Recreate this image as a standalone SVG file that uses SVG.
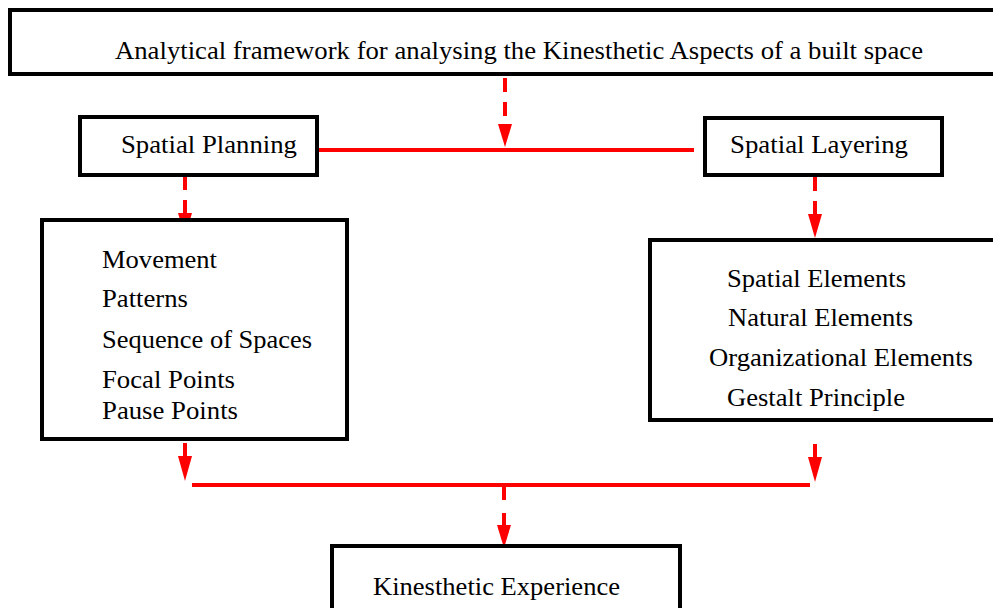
<svg xmlns="http://www.w3.org/2000/svg" width="993" height="608" viewBox="0 0 993 608">
<style>
.box{fill:#fff;stroke:#000;stroke-width:4}
text{font-family:'Liberation Serif',serif;font-size:26px;fill:#000}
.r{stroke:#f00;stroke-width:4;fill:none}
.d{stroke:#f00;stroke-width:4;fill:none;stroke-dasharray:14 10}
.h{fill:#f00}
</style>
<rect width="993" height="608" fill="#fff"/>
<g id="connectors">
<line class="r" x1="310" y1="150" x2="694" y2="150"/>
<line class="d" x1="505" y1="78" x2="505" y2="125"/>
<polygon class="h" points="498,124 512,124 505,147"/>
<line class="d" x1="185" y1="176" x2="185" y2="215"/>
<polygon class="h" points="178,213 192,213 185,237"/>
<line class="d" x1="815" y1="177" x2="815" y2="216"/>
<polygon class="h" points="808,214 822,214 815,238"/>
<line class="r" x1="185" y1="443" x2="185" y2="458"/>
<polygon class="h" points="178,456 192,456 185,481"/>
<line class="r" x1="815" y1="444" x2="815" y2="459"/>
<polygon class="h" points="808,457 822,457 815,482"/>
<line class="r" x1="192" y1="485" x2="810" y2="485"/>
<line class="r" x1="504" y1="487" x2="504" y2="500"/>
<line class="r" x1="504" y1="513" x2="504" y2="527"/>
<polygon class="h" points="497,525 511,525 504,548"/>
</g>
<g id="top">
<rect class="box" x="10" y="10" width="990" height="64"/>
<text x="115" y="59" textLength="808" lengthAdjust="spacingAndGlyphs">Analytical framework for analysing the Kinesthetic Aspects of a built space</text>
</g>
<g id="planning">
<rect class="box" x="80" y="117" width="237" height="58"/>
<text x="121" y="153" textLength="176" lengthAdjust="spacingAndGlyphs">Spatial Planning</text>
</g>
<g id="layering">
<rect class="box" x="705" y="118" width="237" height="57"/>
<text x="730" y="153" textLength="178" lengthAdjust="spacingAndGlyphs">Spatial Layering</text>
</g>
<g id="planning-list">
<rect class="box" x="42" y="220" width="305" height="219"/>
<text x="102" y="268" textLength="115" lengthAdjust="spacingAndGlyphs">Movement</text>
<text x="102" y="307" textLength="86" lengthAdjust="spacingAndGlyphs">Patterns</text>
<text x="102" y="348" textLength="210" lengthAdjust="spacingAndGlyphs">Sequence of Spaces</text>
<text x="102" y="388" textLength="133" lengthAdjust="spacingAndGlyphs">Focal Points</text>
<text x="102" y="419" textLength="136" lengthAdjust="spacingAndGlyphs">Pause Points</text>
</g>
<g id="layering-list">
<rect class="box" x="650" y="240" width="350" height="180"/>
<text x="727" y="287" textLength="179" lengthAdjust="spacingAndGlyphs">Spatial Elements</text>
<text x="728" y="326" textLength="185" lengthAdjust="spacingAndGlyphs">Natural Elements</text>
<text x="709" y="366" textLength="264" lengthAdjust="spacingAndGlyphs">Organizational Elements</text>
<text x="727" y="406" textLength="178" lengthAdjust="spacingAndGlyphs">Gestalt Principle</text>
</g>
<g id="experience">
<rect class="box" x="332" y="546" width="348" height="80"/>
<text x="373" y="595" textLength="247" lengthAdjust="spacingAndGlyphs">Kinesthetic Experience</text>
</g>
</svg>
